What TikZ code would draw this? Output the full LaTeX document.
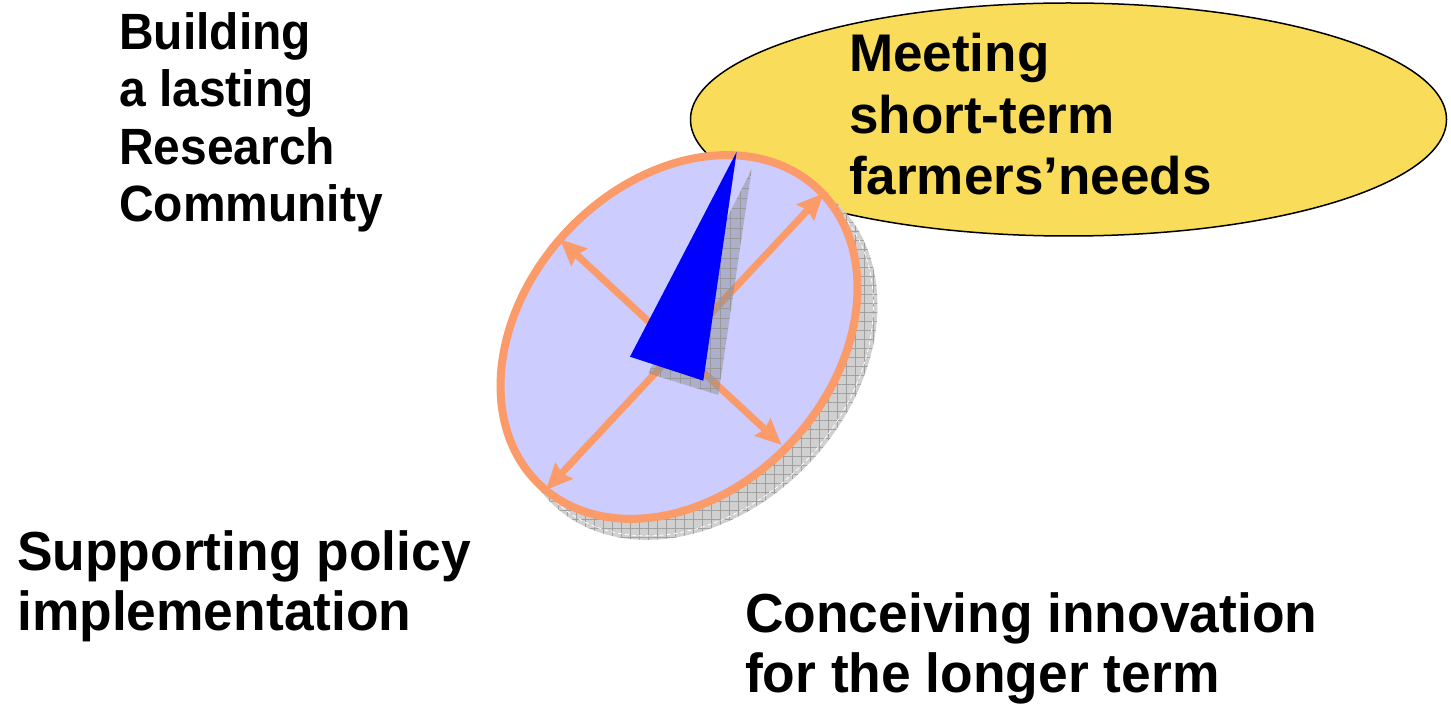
\documentclass[tikz,border=0pt]{standalone}
\usepackage{fontspec}
\setmainfont{Liberation Sans}
\newfontfamily\tlfont[FakeStretch=0.94]{Liberation Sans}
\newfontfamily\btfont[FakeStretch=0.97]{Liberation Sans}
\usetikzlibrary{arrows.meta,patterns.meta}
\definecolor{ylw}{RGB}{249,221,90}
\definecolor{lav}{RGB}{204,204,255}
\definecolor{ring}{RGB}{250,155,105}
\definecolor{shd}{RGB}{208,208,208}
\definecolor{shdline}{RGB}{160,160,160}
\tikzset{
  lbl/.style={anchor=base west, inner sep=0pt, align=left, text=black},
  axisarrow/.style={draw=ring, line width=7pt, {Stealth[length=26pt,width=23pt,inset=3pt]}-{Stealth[length=26pt,width=23pt,inset=3pt]}},
}
\begin{document}
\begin{tikzpicture}[x=1pt,y=-1pt]
\useasboundingbox (0,0) rectangle (1451,708);
% yellow ellipse
\coordinate (yc) at (1068.5,119.5);
\draw[fill=ylw, draw=black, line width=1.5pt] (yc) ellipse [x radius=378, y radius=116.5];
% disk shadow
\coordinate (c) at (679,337);
\coordinate (sc) at (695,354);
\fill[shd, rotate around={47:(sc)}] (sc) ellipse [x radius=207, y radius=158];
\fill[pattern={Hatch[distance=9pt,line width=0.6pt]}, pattern color=shdline, rotate around={47:(sc)}] (sc) ellipse [x radius=207, y radius=158];
\draw[white, line width=0.8pt, dash pattern=on 4pt off 3pt, rotate around={47:(sc)}] (sc) ellipse [x radius=203, y radius=154];
% disk
\draw[fill=lav, draw=ring, line width=8pt, rotate around={47:(c)}] (c) ellipse [x radius=203, y radius=154];
% axis arrows
\coordinate (ur) at (823.3,193.3);
\coordinate (ll) at (546,490);
\coordinate (ul) at (560,239.3);
\coordinate (lr) at (781.7,445);
\draw[axisarrow] (ll) -- (ur);
\draw[axisarrow] (ul) -- (lr);
% needle shadow
\coordinate (st) at (751.7,169.3);
\coordinate (sl) at (648.3,373.3);
\coordinate (sb) at (718.3,395);
\fill[gray, opacity=0.4] (st) -- (sl) -- (sb) -- cycle;
\fill[pattern={Hatch[distance=10pt,line width=0.6pt]}, pattern color=gray!80] (st) -- (sl) -- (sb) -- cycle;
% needle
\coordinate (nt) at (736.7,151.7);
\coordinate (nl) at (630,356.7);
\coordinate (nb) at (703.3,380.7);
\fill[blue] (nt) -- (nl) -- (nb) -- cycle;
% labels (base anchor = baseline of last line)
\node[lbl, font=\tlfont\bfseries\fontsize{51}{57.5}\selectfont] (build) at (119,221.8) {Building\\a lasting\\Research\\Community};
\node[lbl, font=\bfseries\fontsize{53}{61.5}\selectfont] (meet) at (849,195) {Meeting\\short-term\\farmers’needs};
\node[lbl, font=\btfont\bfseries\fontsize{55}{60}\selectfont] (supp) at (17,630) {Supporting policy\\implementation};
\node[lbl, font=\btfont\bfseries\fontsize{55}{60}\selectfont] (conc) at (745,692) {Conceiving innovation\\for the longer term};
\end{tikzpicture}
\end{document}
